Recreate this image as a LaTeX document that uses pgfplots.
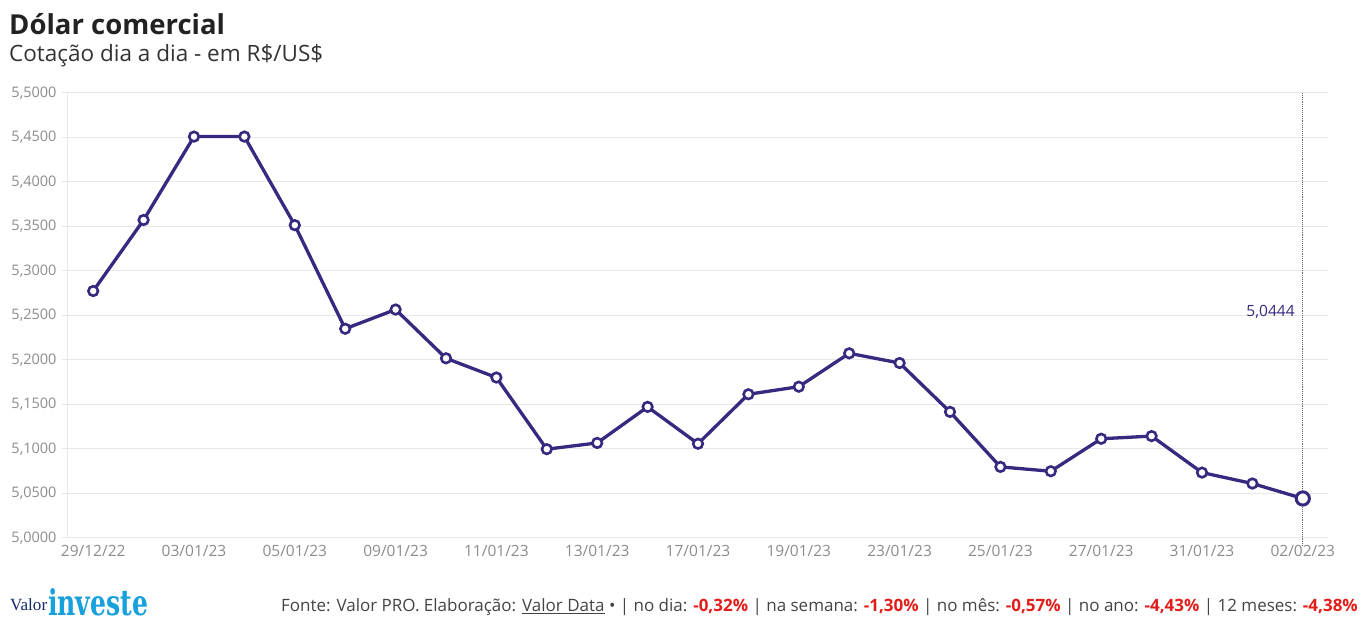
\documentclass[border=0pt]{standalone}
\usepackage{pgfplots}
\pgfplotsset{compat=1.18}
\usepackage{graphicx}
\usepackage{fontspec}
\setmainfont{Open Sans}
\newfontfamily\logoserif{Liberation Serif}
\newfontfamily\logobold{DejaVu Serif Condensed}
\definecolor{linec}{RGB}{56,40,128}
\definecolor{titlec}{RGB}{34,34,34}
\definecolor{subc}{RGB}{51,51,51}
\definecolor{tickc}{RGB}{140,140,140}
\definecolor{gridc}{RGB}{232,232,232}
\definecolor{footc}{RGB}{68,68,68}
\definecolor{redc}{RGB}{226,30,26}
\definecolor{logoblue}{RGB}{22,160,220}
\definecolor{logonavy}{RGB}{20,40,110}
\begin{document}
\begin{tikzpicture}[x=1pt,y=1pt]
\path[use as bounding box] (0,0) rectangle (1366,628);
\node[anchor=base west, inner sep=0pt, text=titlec, font=\fontsize{27.5}{32}\selectfont\bfseries] at (9,628-35) {Dólar comercial};
\node[anchor=base west, inner sep=0pt, text=subc, font=\fontsize{22.5}{26}\selectfont] at (9,628-62) {Cotação dia a dia - em R\$/US\$};
\begin{axis}[
  at={(68pt,90pt)}, anchor=south west,
  width=1260pt, height=445pt, scale only axis,
  xmin=-0.5, xmax=24.5, ymin=5, ymax=5.5,
  clip=false,
  axis lines=left,
  axis line style={draw=gridc, line width=1pt, -},
  ytick={5,5.05,5.1,5.15,5.2,5.25,5.3,5.35,5.4,5.45,5.5},
  ymajorgrids, grid style={draw=gridc, line width=1pt},
  yticklabel={\pgfmathprintnumber[fixed, fixed zerofill, precision=4, use comma, assume math mode=true]{\tick}},
  y tick label style={text=tickc, font=\fontsize{14.5}{16}\selectfont, xshift=-2pt},
  xtick={0,2,...,24},
  xticklabels={29/12/22,03/01/23,05/01/23,09/01/23,11/01/23,13/01/23,17/01/23,19/01/23,23/01/23,25/01/23,27/01/23,31/01/23,02/02/23},
  x tick label style={text=tickc, font=\fontsize{15.5}{17}\selectfont, yshift=2pt},
  x tick style={draw=none},
  extra x ticks={1,3,...,23},
  extra x tick labels={},
  extra x tick style={tick style={draw=gridc, line width=1pt}, major tick length=7pt},
  tick align=outside,
  y tick style={draw=gridc, line width=1pt},
  major tick length=6pt,
]
\addplot[color=linec, line width=3.3pt, mark=*, mark size=4.8pt, mark options={fill=white, draw=linec, line width=2.6pt}] coordinates {
(0,5.2775) (1,5.3573) (2,5.4510) (3,5.4510) (4,5.3515) (5,5.2351) (6,5.2567)
(7,5.2019) (8,5.1803) (9,5.0998) (10,5.1068) (11,5.1473) (12,5.1059)
(13,5.1615) (14,5.1700) (15,5.2075) (16,5.1966) (17,5.1417) (18,5.0799)
(19,5.0750) (20,5.1115) (21,5.1145) (22,5.0735) (23,5.0612) (24,5.0444)
};
\addplot[only marks, mark=*, mark size=6.6pt, mark options={fill=white, draw=linec, line width=3pt}] coordinates {(24,5.0444)};
\draw[densely dotted, color=black!60, line width=0.9pt] (axis cs:24,5.5) -- ([yshift=-8pt]axis cs:24,5);
\node[anchor=east, text=linec, font=\fontsize{15.5}{17}\selectfont, inner sep=0pt] at ([xshift=-8pt]axis cs:24,5.2543) {5,0444};
\end{axis}
\node[anchor=base west, inner sep=0pt, text=logonavy] at (10,628-611) {\resizebox{37pt}{!}{\logoserif Valor}};
\node[anchor=base west, inner sep=0pt, text=logoblue] at (48,628-616) {\resizebox{100pt}{27pt}{\logobold\bfseries investe}};
\node[anchor=base east, inner sep=0pt, text=footc, font=\fontsize{17}{20}\selectfont] at (1358,628-612) {Fonte: Valor PRO. Elaboração: \underline{Valor Data} • | no dia: \textbf{\color{redc}-0,32\%} | na semana: \textbf{\color{redc}-1,30\%} | no mês: \textbf{\color{redc}-0,57\%} | no ano: \textbf{\color{redc}-4,43\%} | 12 meses: \textbf{\color{redc}-4,38\%}};
\end{tikzpicture}
\end{document}
